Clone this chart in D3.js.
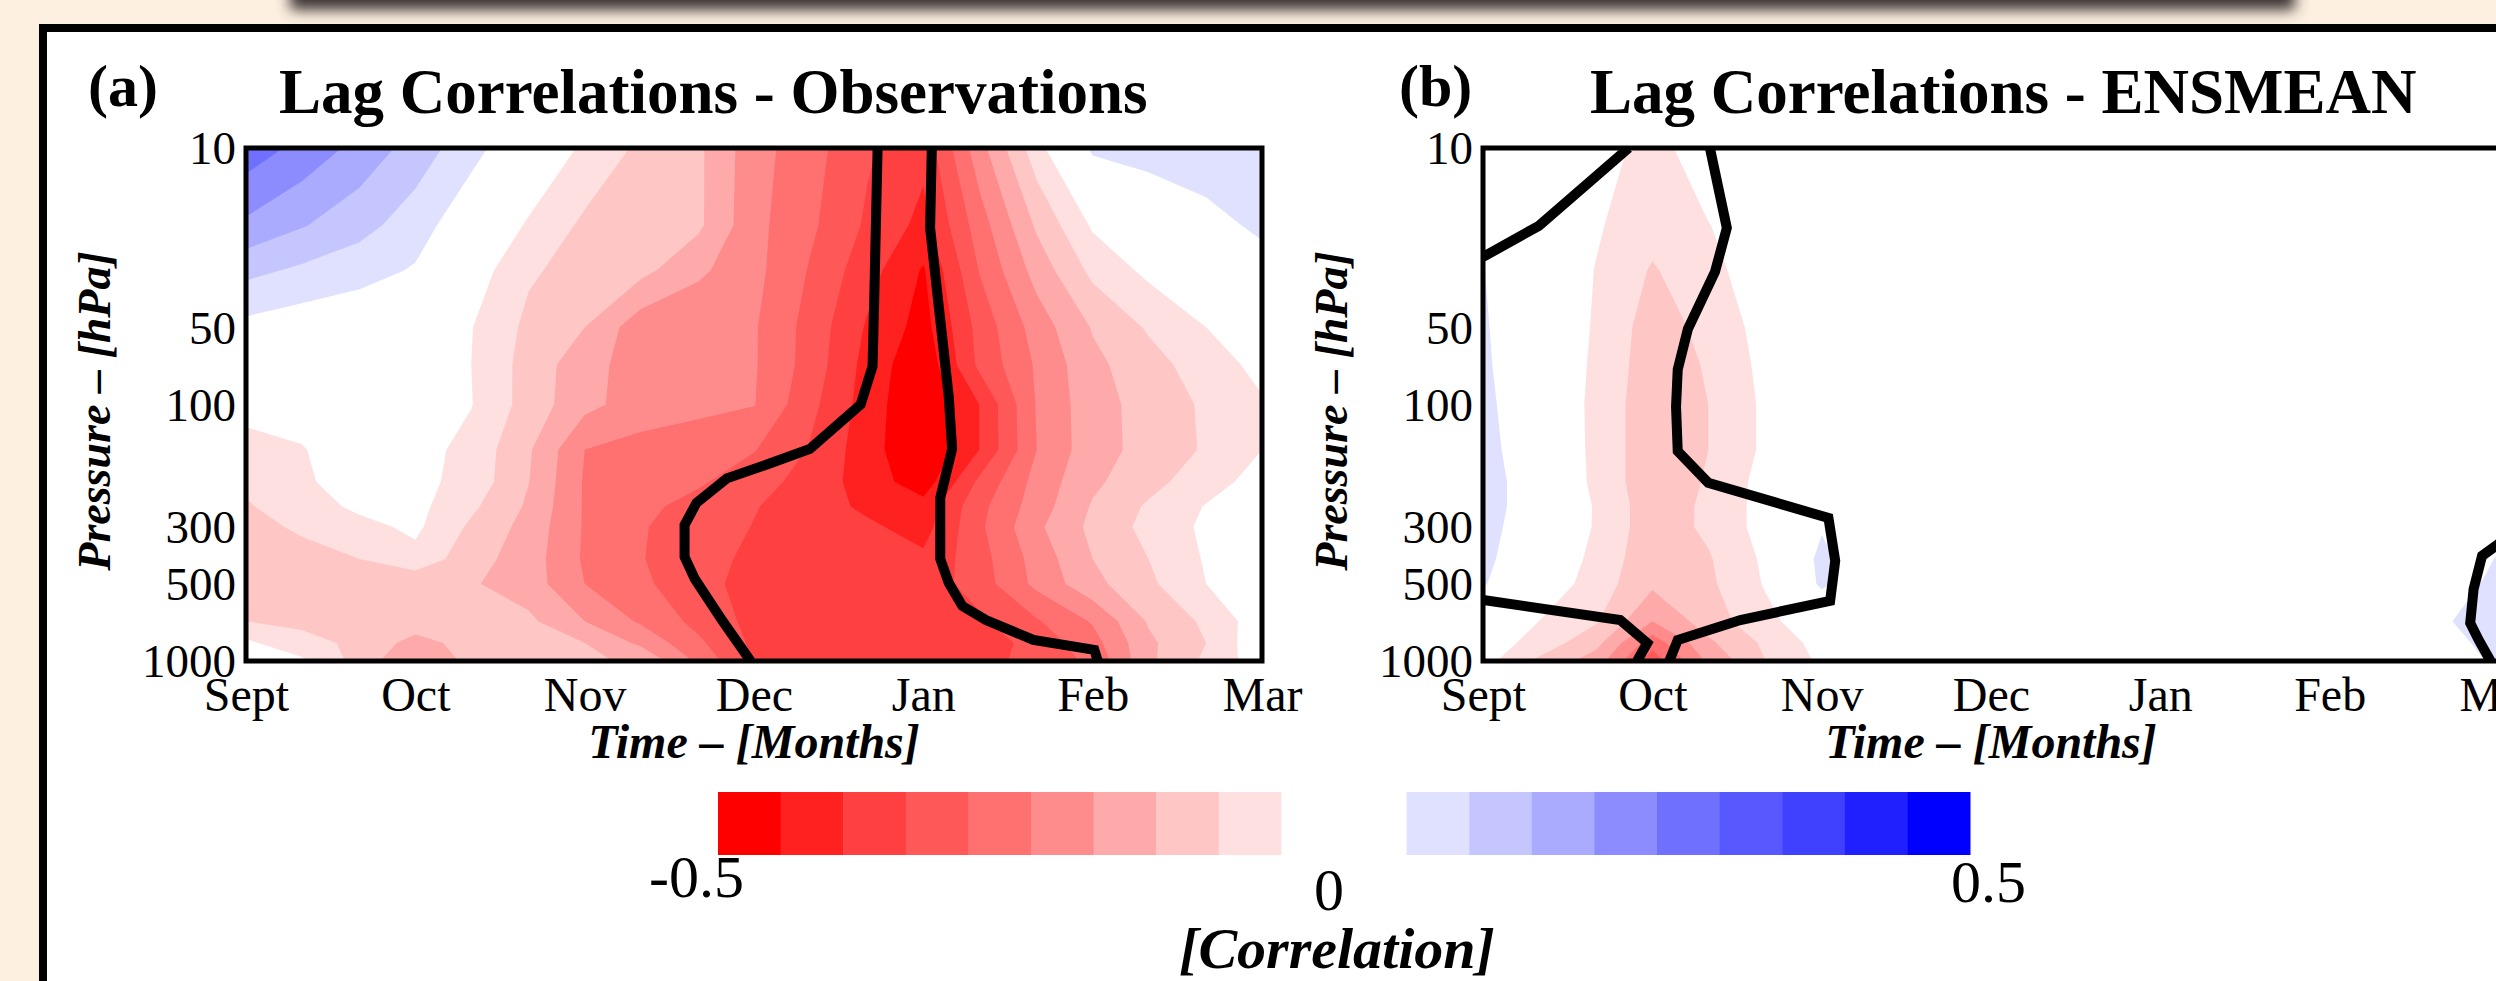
<!DOCTYPE html>
<html lang="en">
<head>
<meta charset="utf-8">
<title>Lag Correlations</title>
<script src="https://d3js.org/d3.v7.min.js"></script>
<style>
  body { margin: 0; background: #fdf0e0; overflow: hidden; }
  svg { display: block; }
  text { font-family: "Liberation Serif", "Times New Roman", serif; fill: #000; }
</style>
</head>
<body>
<script>

// ---- data ----
var months = ["Sept", "Oct", "Nov", "Dec", "Jan", "Feb", "Mar"];
var pressureTicks = [10, 50, 100, 300, 500, 1000];

// grid: time in months after 1 Sept, pressure levels in hPa
var times = [0, 0.33, 0.67, 1, 1.33, 1.67, 2, 2.33, 2.67, 3, 3.33, 3.67, 4, 4.33, 4.67, 5, 5.33, 5.67, 6];
var levels = [10, 20, 30, 50, 70, 100, 150, 200, 250, 300, 400, 500, 700, 850, 1000];

// (a) observations, one row per level
var obsCorr = [
  [0.28, 0.235, 0.184, 0.129, 0.068, 0.004, -0.06, -0.11, -0.14, -0.23, -0.28, -0.343, -0.385, -0.22, -0.07, 0.06, 0.075, 0.08, 0.08],
  [0.19, 0.154, 0.118, 0.074, 0.012, -0.057, -0.11, -0.125, -0.14, -0.235, -0.29, -0.358, -0.415, -0.275, -0.142, -0.043, -0.005, 0.033, 0.06],
  [0.114, 0.091, 0.07, 0.045, -0.022, -0.093, -0.12, -0.135, -0.19, -0.235, -0.304, -0.38, -0.455, -0.298, -0.18, -0.087, -0.038, -0.005, 0.03],
  [0.035, 0.02, 0.01, -0.01, -0.048, -0.112, -0.15, -0.23, -0.24, -0.245, -0.318, -0.406, -0.47, -0.333, -0.227, -0.146, -0.094, -0.05, -0.02],
  [0.0, -0.005, -0.015, -0.025, -0.05, -0.12, -0.18, -0.225, -0.235, -0.245, -0.32, -0.418, -0.49, -0.339, -0.243, -0.163, -0.119, -0.075, -0.035],
  [-0.033, -0.035, -0.038, -0.04, -0.048, -0.121, -0.185, -0.225, -0.235, -0.248, -0.335, -0.423, -0.5, -0.4, -0.246, -0.17, -0.131, -0.092, -0.055],
  [-0.067, -0.052, -0.03, -0.03, -0.066, -0.144, -0.25, -0.266, -0.281, -0.297, -0.354, -0.428, -0.5, -0.4, -0.25, -0.17, -0.133, -0.094, -0.05],
  [-0.09, -0.055, -0.035, -0.035, -0.068, -0.149, -0.255, -0.272, -0.293, -0.327, -0.371, -0.422, -0.48, -0.34, -0.232, -0.16, -0.117, -0.071, -0.03],
  [-0.105, -0.073, -0.04, -0.035, -0.09, -0.158, -0.255, -0.287, -0.318, -0.347, -0.376, -0.41, -0.43, -0.315, -0.225, -0.145, -0.093, -0.047, -0.02],
  [-0.12, -0.091, -0.065, -0.04, -0.109, -0.168, -0.255, -0.296, -0.324, -0.352, -0.372, -0.391, -0.42, -0.31, -0.21, -0.137, -0.085, -0.04, -0.01],
  [-0.125, -0.12, -0.1, -0.065, -0.13, -0.175, -0.257, -0.297, -0.333, -0.36, -0.375, -0.385, -0.39, -0.32, -0.23, -0.15, -0.1, -0.045, -0.02],
  [-0.125, -0.13, -0.135, -0.14, -0.145, -0.175, -0.25, -0.29, -0.332, -0.37, -0.375, -0.38, -0.38, -0.325, -0.237, -0.165, -0.11, -0.05, -0.02],
  [-0.1, -0.11, -0.115, -0.12, -0.125, -0.14, -0.2, -0.257, -0.315, -0.365, -0.38, -0.39, -0.39, -0.36, -0.305, -0.245, -0.145, -0.09, -0.02],
  [-0.04, -0.085, -0.11, -0.17, -0.13, -0.13, -0.15, -0.21, -0.29, -0.36, -0.385, -0.39, -0.395, -0.38, -0.33, -0.27, -0.16, -0.1, -0.01],
  [-0.02, -0.04, -0.12, -0.2, -0.135, -0.14, -0.145, -0.155, -0.26, -0.36, -0.38, -0.38, -0.38, -0.37, -0.33, -0.29, -0.16, -0.09, -0.02]
];

// (b) ensemble mean
var ensCorr = [
  [0, 0, -0.02, -0.075, -0.01, 0, 0, 0, 0, 0, 0, 0, 0, 0, 0, 0, 0, 0, 0],
  [0.03, 0, -0.045, -0.08, -0.052, -0.01, 0, 0, 0, 0, 0, 0, 0, 0, 0, 0, 0, 0, 0],
  [0.052, -0.01, -0.052, -0.105, -0.065, -0.02, 0, 0, 0, 0, 0, 0, 0, 0, 0, 0, 0, 0, 0],
  [0.058, -0.01, -0.055, -0.125, -0.085, -0.03, 0, 0, 0, 0, 0, 0, 0, 0, 0, 0, 0, 0, 0],
  [0.062, -0.01, -0.058, -0.13, -0.095, -0.035, 0, 0, 0, 0, 0, 0, 0, 0, 0, 0, 0, 0, 0],
  [0.068, -0.005, -0.062, -0.135, -0.1, -0.04, 0, 0, 0, 0, 0, 0, 0, 0, 0, 0, 0, 0, 0],
  [0.075, 0, -0.062, -0.135, -0.1, -0.04, 0, 0, 0, 0, 0, 0, 0, 0, 0, 0, 0, 0, 0],
  [0.08, 0.01, -0.062, -0.135, -0.095, -0.03, 0, 0, 0, 0, 0, 0, 0, 0, 0, 0, 0, 0, 0],
  [0.08, 0.01, -0.055, -0.13, -0.09, -0.03, 0.02, 0, 0, 0, 0, 0, 0, 0, 0, 0, 0, 0, 0],
  [0.075, 0.005, -0.055, -0.13, -0.09, -0.03, 0.045, 0, 0, 0, 0, 0, 0, 0, 0, 0, 0, 0, 0.03],
  [0.065, 0, -0.065, -0.135, -0.105, -0.04, 0.065, 0, 0, 0, 0, 0, 0, 0, 0, 0, 0, 0, 0.055],
  [0.055, -0.01, -0.075, -0.14, -0.11, -0.045, 0.06, 0, 0, 0, 0, 0, 0, 0, 0, 0, 0, 0.01, 0.07],
  [-0.01, -0.05, -0.095, -0.2, -0.125, -0.065, -0.01, 0, 0, 0, 0, 0, 0, 0, 0, 0, 0, 0.045, 0.075],
  [-0.02, -0.07, -0.135, -0.28, -0.16, -0.09, -0.03, 0, 0, 0, 0, 0, 0, 0, 0, 0, 0, 0.03, 0.07],
  [-0.03, -0.11, -0.175, -0.33, -0.19, -0.1, -0.04, 0, 0, 0, 0, 0, 0, 0, 0, 0, 0, 0.02, 0.06]
];

// thick black contour lines, [months after 1 Sept, hPa]
var obsLineLeft = [[3.73, 10], [3.71, 39], [3.70, 71], [3.63, 100], [3.33, 149], [3.08, 171], [2.84, 194], [2.66, 242], [2.59, 295], [2.59, 393], [2.65, 478], [2.81, 692], [2.98, 1000]];
var obsLineRight = [[4.05, 10], [4.04, 20.5], [4.15, 93], [4.17, 149], [4.10, 231], [4.10, 400], [4.15, 496], [4.23, 610], [4.37, 692], [4.65, 828], [5.01, 905], [5.03, 1000]];
var ensLine1 = [[0, 26.6], [0.33, 20.1], [0.86, 10]];
var ensLine2 = [[1.34, 10], [1.44, 20.5], [1.37, 30.4], [1.21, 50.8], [1.15, 73], [1.14, 102], [1.15, 152], [1.33, 202], [2.04, 277], [2.08, 407], [2.05, 583], [1.52, 692], [1.15, 828], [1.10, 1000]];
var ensLine3 = [[0, 578], [0.81, 692], [0.97, 851], [0.91, 1000]];
var ensLine4 = [[6.05, 330], [5.9, 389], [5.85, 524], [5.83, 711], [5.88, 828], [5.95, 1000]];

// colour levels of the colour bar
var thresholds = [-0.45, -0.4, -0.35, -0.3, -0.25, -0.2, -0.15, -0.1, -0.05, 0.05, 0.1, 0.15, 0.2, 0.25, 0.3, 0.35, 0.4, 0.45];
var bandColors = ["#ff0000", "#ff2020", "#ff4040", "#ff5858", "#ff7070", "#ff8c8c", "#ffaaaa", "#ffc6c6", "#ffe0e0", "#ffffff",
                  "#e0e0ff", "#c6c6ff", "#aaaaff", "#8c8cff", "#7070ff", "#5858ff", "#4040ff", "#2020ff", "#0000ff"];
var barTicks = ["-0.5", "0", "0.5"];

// ---- canvas ----
var W = 2496, H = 981;
var svg = d3.select("body").append("svg").attr("width", W).attr("height", H);
var defs = svg.append("defs");
defs.append("filter").attr("id", "blur").attr("x", "-10%").attr("y", "-200%").attr("width", "120%").attr("height", "500%")
  .append("feGaussianBlur").attr("stdDeviation", 7);

// shadow of the box above
svg.append("rect").attr("x", 290).attr("y", -40).attr("width", 2005).attr("height", 50)
  .attr("fill", "#3e3634").attr("filter", "url(#blur)");

// white sheet with heavy border
svg.append("rect").attr("x", 43).attr("y", 28).attr("width", 2700).attr("height", 1200)
  .attr("fill", "#fff").attr("stroke", "#000").attr("stroke-width", 8);

var logLev = levels.map(function(d){ return Math.log10(d); });
function lerp(arr, f) {
  var i = Math.floor(f);
  if (i >= arr.length - 1) return arr[arr.length - 1];
  return arr[i] + (arr[i + 1] - arr[i]) * (f - i);
}

var panels = [
  { id: "a", field: obsCorr, lines: [obsLineLeft, obsLineRight], x0: 246,
    tag: "(a)", tagX: 88, title: "Lag Correlations - Observations", titleX: 279 },
  { id: "b", field: ensCorr, lines: [ensLine1, ensLine2, ensLine3, ensLine4], x0: 1483,
    tag: "(b)", tagX: 1399, title: "Lag Correlations - ENSMEAN", titleX: 1590 }
];

var plotW = 1016, plotTop = 148, plotBottom = 661;
var nx = times.length, ny = levels.length;

panels.forEach(function(P) {
  var x = d3.scaleLinear().domain([0, 6]).range([P.x0, P.x0 + plotW]);
  var y = d3.scaleLog().domain([10, 1000]).range([plotTop, plotBottom]);
  var g = svg.append("g");

  defs.append("clipPath").attr("id", "clip-" + P.id)
    .append("rect").attr("x", P.x0).attr("y", plotTop).attr("width", plotW).attr("height", plotBottom - plotTop);

  var plot = g.append("g").attr("clip-path", "url(#clip-" + P.id + ")");

  // grid coordinates -> time / pressure -> pixels
  var proj = d3.geoTransform({
    point: function(cx, cy) {
      var fi = Math.max(0, Math.min(nx - 1, cx - 0.5));
      var fj = Math.max(0, Math.min(ny - 1, cy - 0.5));
      var t = lerp(times, fi);
      var p = Math.pow(10, lerp(logLev, fj));
      this.stream.point(x(t), y(p));
    }
  });
  var path = d3.geoPath(proj);

  var flat = [].concat.apply([], P.field);
  var contours = d3.contours().size([nx, ny]).thresholds(thresholds)(flat);

  plot.append("rect").attr("x", P.x0).attr("y", plotTop).attr("width", plotW).attr("height", plotBottom - plotTop)
    .attr("fill", bandColors[0]);
  plot.selectAll("path.band")
    .data(contours)
    .enter().append("path")
    .attr("class", "band")
    .attr("d", path)
    .attr("fill-rule", "evenodd")
    .attr("fill", function(d, i) { return bandColors[i + 1]; });

  var line = d3.line().x(function(d){ return x(d[0]); }).y(function(d){ return y(d[1]); });
  plot.selectAll("path.sig")
    .data(P.lines)
    .enter().append("path")
    .attr("class", "sig")
    .attr("d", line)
    .attr("fill", "none")
    .attr("stroke", "#000")
    .attr("stroke-width", 10);

  // frame
  g.append("rect").attr("x", P.x0).attr("y", plotTop).attr("width", plotW).attr("height", plotBottom - plotTop)
    .attr("fill", "none").attr("stroke", "#000").attr("stroke-width", 5);

  // axes
  var yAxis = d3.axisLeft(y).tickValues(pressureTicks).tickFormat(d3.format("d")).tickSize(0).tickPadding(10);
  var ya = g.append("g").attr("transform", "translate(" + P.x0 + ",0)").call(yAxis);
  ya.select(".domain").remove();
  ya.selectAll("text").attr("font-family", "Liberation Serif").attr("font-size", 47).attr("dy", "0.34em");

  var xAxis = d3.axisBottom(x).tickValues(d3.range(months.length)).tickFormat(function(d){ return months[d]; })
    .tickSize(0).tickPadding(16);
  var xa = g.append("g").attr("transform", "translate(0," + plotBottom + ")").call(xAxis);
  xa.select(".domain").remove();
  xa.selectAll("text").attr("font-family", "Liberation Serif").attr("font-size", 48);

  // titles
  g.append("text").attr("x", P.tagX).attr("y", 106).attr("font-size", 60).attr("font-weight", "bold").text(P.tag);
  g.append("text").attr("x", P.titleX).attr("y", 113).attr("font-size", 63).attr("font-weight", "bold").text(P.title);

  g.append("text").attr("x", P.x0 + plotW / 2).attr("y", 758).attr("text-anchor", "middle")
    .attr("font-size", 48).attr("font-weight", "bold").attr("font-style", "italic")
    .text("Time \u2013 [Months]");

  g.append("text").attr("transform", "translate(" + (P.x0 - 136) + ",411) rotate(-90)")
    .attr("text-anchor", "middle").attr("font-size", 46).attr("font-weight", "bold").attr("font-style", "italic")
    .text("Pressure \u2013 [hPa]");
});

// ---- colour bar ----
var cb = d3.scaleLinear().domain([-0.5, 0.5]).range([718, 1970]);
var edges = [-0.5].concat(thresholds, [0.5]);
svg.append("g").selectAll("rect")
  .data(bandColors)
  .enter().append("rect")
  .attr("x", function(d, i){ return cb(edges[i]); })
  .attr("y", 792)
  .attr("width", function(d, i){ return cb(edges[i + 1]) - cb(edges[i]) + 0.5; })
  .attr("height", 63)
  .attr("fill", function(d){ return d; });

var cbl = svg.append("g").attr("font-size", 60);
cbl.append("text").attr("x", cb(+barTicks[0]) + 26).attr("y", 897).attr("text-anchor", "end").text(barTicks[0]);
cbl.append("text").attr("x", cb(+barTicks[1]) - 15).attr("y", 910).attr("text-anchor", "middle").text(barTicks[1]);
cbl.append("text").attr("x", cb(+barTicks[2]) - 19).attr("y", 902).attr("text-anchor", "start").text(barTicks[2]);
cbl.append("text").attr("x", 1337).attr("y", 968).attr("text-anchor", "middle").attr("font-style", "italic")
  .attr("font-weight", "bold").attr("font-size", 58).text("[Correlation]");

</script>
</body>
</html>
